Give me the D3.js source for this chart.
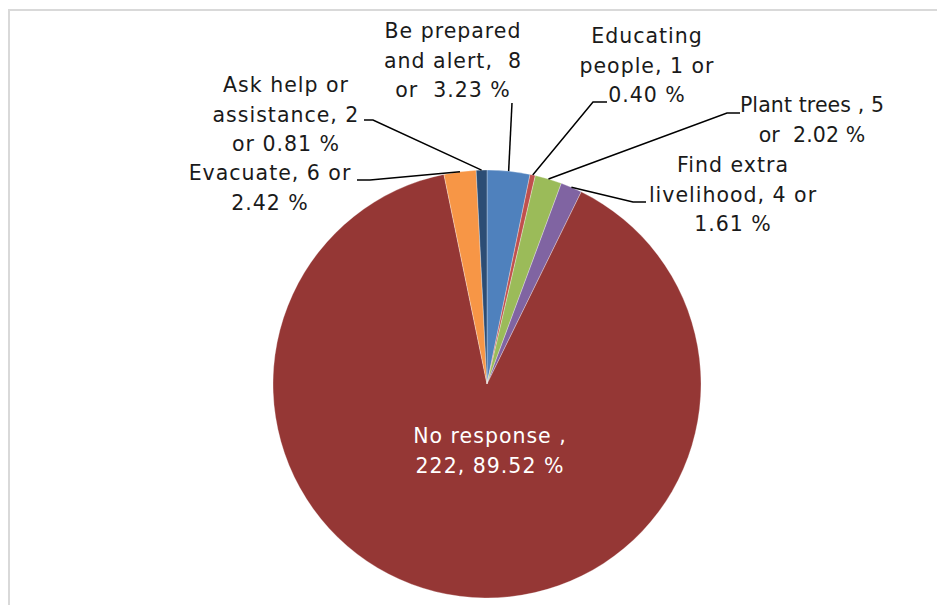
<!DOCTYPE html>
<html>
<head>
<meta charset="utf-8">
<script src="https://cdn.jsdelivr.net/npm/d3@7"></script>
<style>
  html, body { margin: 0; padding: 0; background: #fff; }
  svg { display: block; }
  text { font-family: "DejaVu Sans", sans-serif; white-space: pre; }
</style>
</head>
<body>
<svg id="chart" width="937" height="605"></svg>
<script>
// Responses (count) and their share of the 248 respondents
const categories = [
  "Be prepared and alert",
  "Educating people",
  "Plant trees",
  "Find extra livelihood",
  "No response",
  "Evacuate",
  "Ask help or assistance"
];
const counts = [8, 1, 5, 4, 222, 6, 2];
const percents = ["3.23", "0.40", "2.02", "1.61", "89.52", "2.42", "0.81"];

// Label text, line by line
const labelLines = [
  ["Be prepared", "and alert,  8", "or  3.23 %"],
  ["Educating", "people, 1 or", "0.40 %"],
  ["Plant trees , 5", "or  2.02 %"],
  ["Find extra", "livelihood, 4 or", "1.61 %"],
  ["No response ,", "222, 89.52 %"],
  ["Evacuate, 6 or", "2.42 %"],
  ["Ask help or", "assistance, 2", "or 0.81 %"]
];

const colors = ["#4f81bd", "#c0504d", "#9bbb59", "#8064a2", "#953735", "#f79646", "#2c4d75"];

const width = 937, height = 605;
const cx = 487, cy = 384, radius = 214;
const lineHeight = 29.5;

// Label placement: text centre x, first baseline, leader elbow and tail end
const labelLayout = [
  { x: 453, y: 38,  elbow: [512, 103], tail: null },
  { x: 647, y: 43,  elbow: [593, 102], tail: 607 },
  { x: 812, y: 112, elbow: [727, 113], tail: 740, spacing: 0.1 },
  { x: 733, y: 172, elbow: [633, 202], tail: 646 },
  { x: 490, y: 443, elbow: null, tail: null, inside: true },
  { x: 270, y: 180, elbow: [370, 180], tail: 357 },
  { x: 286, y: 92,  elbow: [373, 120], tail: 364 }
];

const svg = d3.select("#chart");

// Chart frame (top and left edges visible)
svg.append("line").attr("x1", 9).attr("y1", 10).attr("x2", 937).attr("y2", 10)
  .attr("stroke", "#d9d9d9").attr("stroke-width", 2);
svg.append("line").attr("x1", 9).attr("y1", 9).attr("x2", 9).attr("y2", 605)
  .attr("stroke", "#d9d9d9").attr("stroke-width", 2);

const pie = d3.pie().sort(null).value(d => d)(counts);
const arc = d3.arc().innerRadius(0).outerRadius(radius);

const g = svg.append("g").attr("transform", `translate(${cx},${cy})`);

g.selectAll("path.slice")
  .data(pie)
  .join("path")
  .attr("class", "slice")
  .attr("d", arc)
  .attr("fill", (d, i) => colors[i])
  .attr("stroke", "#ffffff")
  .attr("stroke-width", 0.5)
  .attr("stroke-opacity", 0.6);

// Leader lines from the slice's outer edge to its label
pie.forEach((d, i) => {
  const L = labelLayout[i];
  if (!L.elbow) return;
  const mid = (d.startAngle + d.endAngle) / 2;
  const px = cx + radius * Math.sin(mid);
  const py = cy - radius * Math.cos(mid);
  const pts = [[px, py], L.elbow];
  if (L.tail !== null) pts.push([L.tail, L.elbow[1]]);
  svg.append("path")
    .attr("d", d3.line()(pts))
    .attr("fill", "none")
    .attr("stroke", "#000")
    .attr("stroke-width", 1.5);
});

// Data labels
labelLines.forEach((lines, i) => {
  const L = labelLayout[i];
  const t = svg.append("text")
    .attr("text-anchor", "middle")
    .attr("font-size", 20.5)
    .attr("letter-spacing", L.spacing !== undefined ? L.spacing : 1.0)
    .attr("fill", L.inside ? "#ffffff" : "#1a1a1a");
  lines.forEach((s, k) => {
    t.append("tspan").attr("x", L.x).attr("y", L.y + k * lineHeight).text(s);
  });
});
</script>
</body>
</html>
